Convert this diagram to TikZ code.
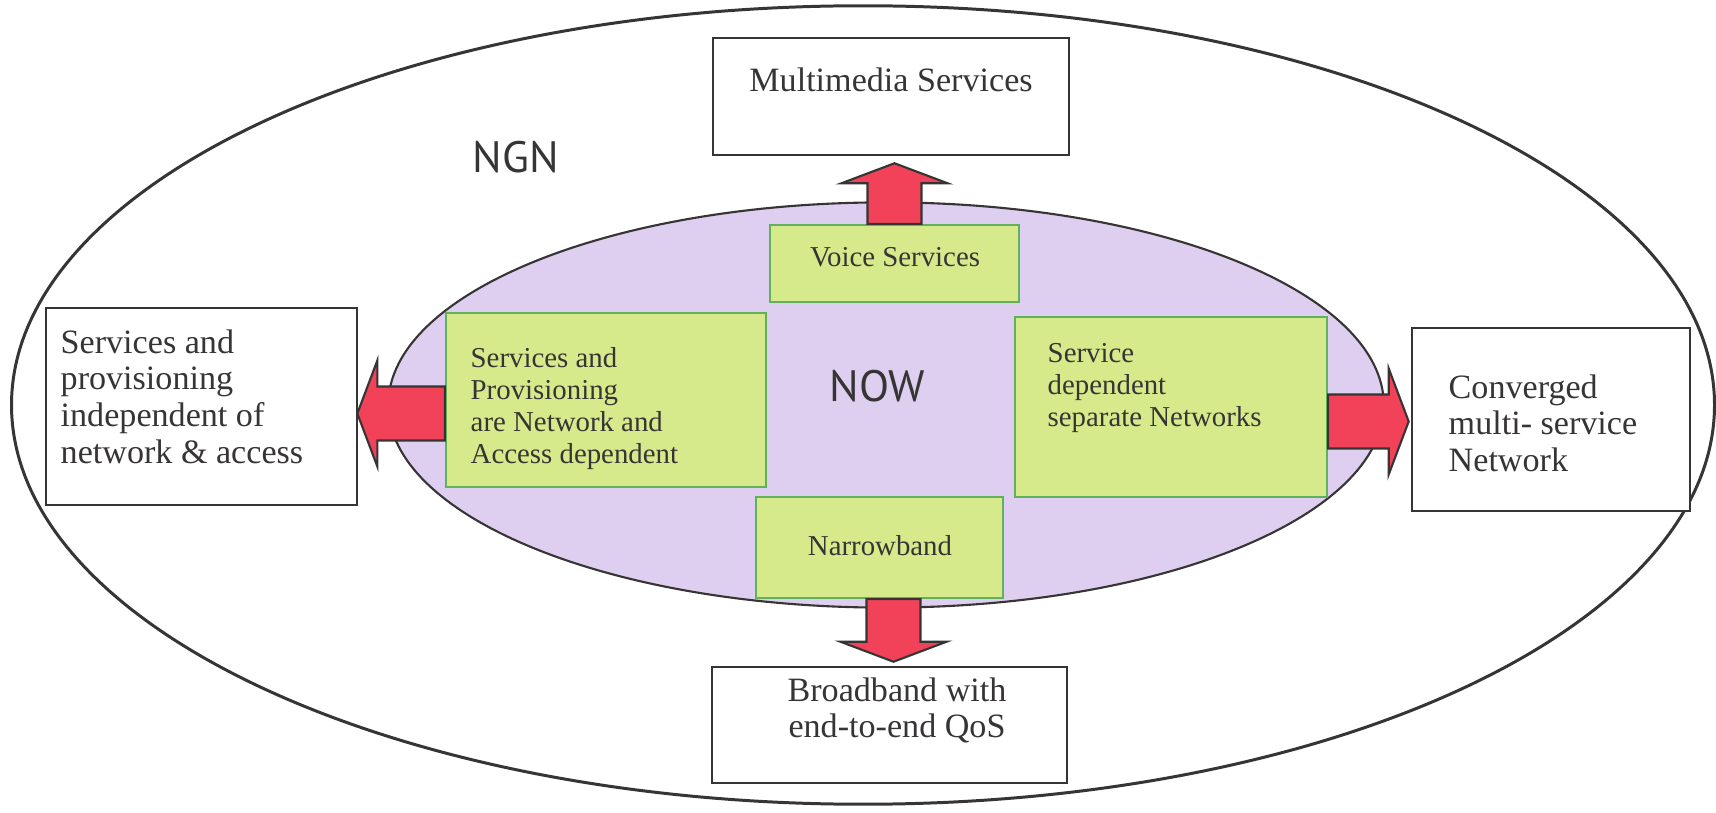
\documentclass[tikz,border=0pt]{standalone}
\usepackage{fontspec}
\setmainfont{Liberation Serif}
\newfontfamily\labelfont{PT Sans}
\usetikzlibrary{shapes.geometric, calc}
\definecolor{arrowred}{RGB}{241,66,89}
\definecolor{nowviolet}{RGB}{222,206,240}
\definecolor{nowgreen}{RGB}{214,234,140}
\definecolor{nowgreenline}{RGB}{96,176,92}
\definecolor{inkgray}{RGB}{55,52,52}
\tikzset{
	every node/.style={
		font=\fontsize{9.7}{10.4}\selectfont,
		text=inkgray,
		inner sep=0pt
	},
	ngnring/.style={
		shape=ellipse,
		draw=inkgray,
		line width=0.85pt,
		minimum width=17.02cm,
		minimum height=7.98cm
	},
	nowring/.style={
		shape=ellipse,
		draw=inkgray,
		line width=0.6pt,
		fill=nowviolet,
		minimum width=9.95cm,
		minimum height=4.05cm
	},
	ngnbox/.style={
		shape=rectangle,
		draw=inkgray,
		line width=0.7pt,
		fill=white
	},
	nowbox/.style={
		shape=rectangle,
		draw=nowgreenline,
		line width=0.6pt,
		fill=nowgreen
	},
	ngntext/.style={
		align=left
	},
	nowtext/.style={
		font=\fontsize{8.2}{9.1}\selectfont,
		align=left
	},
	bigword/.style={
		font=\labelfont\fontsize{12.5}{15}\selectfont
	},
	fat arrow/.style={
		draw=inkgray,
		line width=0.6pt,
		fill=arrowred,
		to path={
			($(\tikztostart)!0.27cm!90:(\tikztotarget)$)
			-- ($(\tikztotarget)!0.2cm!(\tikztostart)!0.27cm!270:(\tikztostart)$)
			-- ($(\tikztotarget)!0.2cm!(\tikztostart)!0.53cm!270:(\tikztostart)$)
			-- (\tikztotarget)
			-- ($(\tikztotarget)!0.2cm!(\tikztostart)!0.53cm!90:(\tikztostart)$)
			-- ($(\tikztotarget)!0.2cm!(\tikztostart)!0.27cm!90:(\tikztostart)$)
			-- ($(\tikztostart)!0.27cm!270:(\tikztotarget)$)
			-- cycle
		}
	}
}

\begin{document}
\begin{tikzpicture}[x=0.01cm, y=-0.01cm]
\useasboundingbox (0,0) rectangle (1716,813);

% the two rings
\node [ngnring] (ngn) at (863,405) {};
\node [nowring] (now) at (886,405) {};
\node [bigword] (ngnlabel) at (516,157) {NGN};
\node [bigword] (nowlabel) at (877,386) {NOW};

% NGN side
\node [ngnbox, minimum width=3.56cm, minimum height=1.17cm] (mm) at (891,96.5) {};
\node [ngnbox, minimum width=3.11cm, minimum height=1.97cm] (indep) at (201.5,406.5) {};
\node [ngnbox, minimum width=2.78cm, minimum height=1.83cm] (conv) at (1551,419.5) {};
\node [ngnbox, minimum width=3.55cm, minimum height=1.16cm] (bband) at (889.5,725) {};

\node (mmtext) at (891,80) {Multimedia Services};
\node [ngntext, anchor=north west] (indeptext) at (60,329) {Services and\\provisioning\\independent of\\network \& access};
\node [ngntext, anchor=north west] (convtext) at (1448,374) {Converged\\multi- service\\Network};
\node [ngntext, align=center, anchor=north] (bbandtext) at (897,677) {Broadband with\\end-to-end QoS};

% NOW side
\node [nowbox, minimum width=2.49cm, minimum height=0.77cm] (voice) at (894.5,263.5) {};
\node [nowbox, minimum width=3.20cm, minimum height=1.74cm] (sap) at (606,400) {};
\node [nowbox, minimum width=3.12cm, minimum height=1.80cm] (sdn) at (1171,407) {};
\node [nowbox, minimum width=2.47cm, minimum height=1.01cm] (nband) at (879.5,547.5) {};

\node [nowtext] (voicetext) at (895,257) {Voice Services};
\node [nowtext, anchor=north west] (saptext) at (470,347) {Services and\\Provisioning\\are Network and\\Access dependent};
\node [nowtext, anchor=north west] (sdntext) at (1047,343) {Service\\dependent\\separate Networks};
\node [nowtext] (nbandtext) at (880,546) {Narrowband};

% NOW -> NGN
\draw [fat arrow] (voice.north) to ($(voice.north |- mm.south)+(0,7)$);
\draw [fat arrow] ($(sap.west)+(0,13.5)$) to ($(indep.east |- sap.west)+(-1,13.5)$);
\draw [fat arrow] ($(sdn.east)+(0,14.5)$) to ($(conv.west |- sdn.east)+(-2,14.5)$);
\draw [fat arrow] ($(nband.south)+(14,0)$) to ($(bband.north -| nband.south)+(14,-4)$);

\end{tikzpicture}
\end{document}
